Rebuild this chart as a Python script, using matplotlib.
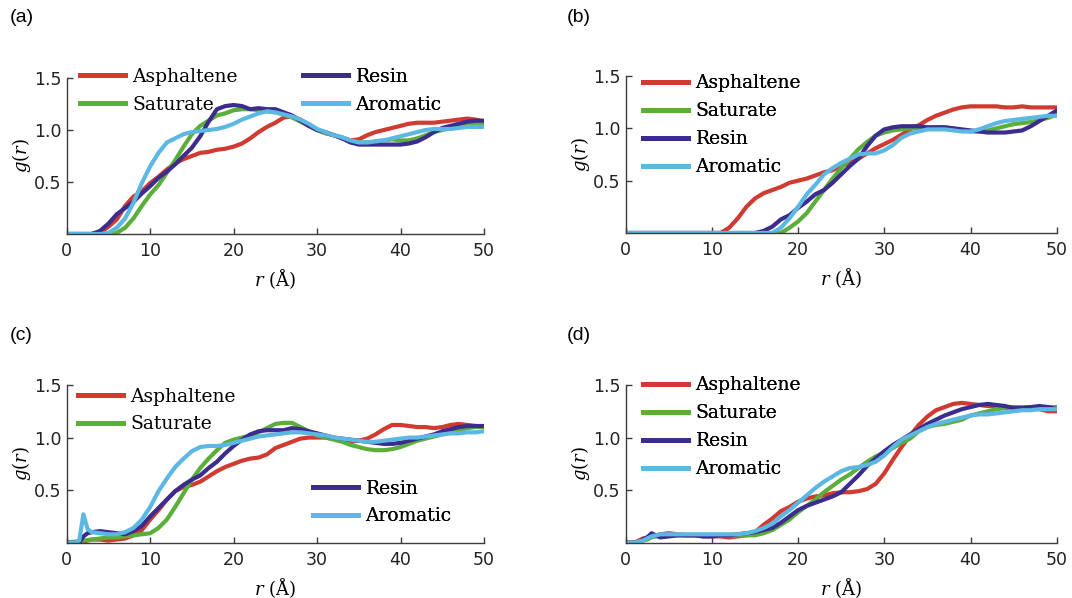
import numpy as np
import matplotlib
matplotlib.use("Agg")
import matplotlib.pyplot as plt
from matplotlib.lines import Line2D

plt.rcParams['mathtext.fontset'] = 'dejavuserif'

# ---------------- data ----------------
labels = ["Asphaltene", "Saturate", "Resin", "Aromatic"]
colors = ["#d13a30", "#5cae3a", "#3b2c8e", "#5cb7e2"]

r_ab = list(range(0, 51))

# panel (a)
a_asph = [0, 0, 0, 0, 0.01, 0.07, 0.14, 0.27, 0.36, 0.41, 0.49, 0.55, 0.62, 0.68, 0.72, 0.75, 0.78, 0.79, 0.81, 0.82,
          0.84, 0.87, 0.92, 0.98, 1.03, 1.07, 1.12, 1.13, 1.10, 1.05, 1.00, 0.97, 0.95, 0.92, 0.90, 0.91, 0.95, 0.98,
          1.00, 1.02, 1.04, 1.06, 1.07, 1.07, 1.07, 1.08, 1.09, 1.10, 1.11, 1.10, 1.08]
a_sat = [0, 0, 0, 0, 0, 0, 0.01, 0.06, 0.15, 0.27, 0.38, 0.47, 0.59, 0.71, 0.84, 0.96, 1.04, 1.09, 1.14, 1.16,
         1.19, 1.20, 1.20, 1.19, 1.18, 1.17, 1.15, 1.12, 1.08, 1.04, 1.00, 0.97, 0.95, 0.93, 0.90, 0.88, 0.88, 0.89,
         0.90, 0.91, 0.90, 0.90, 0.92, 0.95, 0.98, 1.00, 1.02, 1.03, 1.05, 1.06, 1.05]
a_res = [0, 0, 0, 0, 0.03, 0.10, 0.19, 0.25, 0.31, 0.39, 0.46, 0.54, 0.60, 0.67, 0.75, 0.83, 0.94, 1.08, 1.20, 1.23,
         1.24, 1.23, 1.20, 1.21, 1.20, 1.20, 1.17, 1.14, 1.09, 1.04, 1.00, 0.98, 0.95, 0.92, 0.88, 0.86, 0.86, 0.86,
         0.86, 0.86, 0.86, 0.87, 0.89, 0.93, 0.98, 1.02, 1.04, 1.06, 1.08, 1.09, 1.09]
a_aro = [0, 0, 0, 0, 0, 0.01, 0.06, 0.15, 0.30, 0.49, 0.65, 0.78, 0.88, 0.92, 0.96, 0.98, 0.99, 1.00, 1.01, 1.03,
         1.06, 1.10, 1.13, 1.16, 1.18, 1.17, 1.15, 1.13, 1.10, 1.06, 1.01, 0.98, 0.95, 0.93, 0.90, 0.88, 0.88, 0.89,
         0.90, 0.92, 0.94, 0.96, 0.98, 1.00, 1.01, 1.01, 1.01, 1.02, 1.03, 1.03, 1.03]

# panel (b)
b_asph = [0, 0, 0, 0, 0, 0, 0, 0, 0, 0, 0, 0, 0.05, 0.14, 0.25, 0.33, 0.38, 0.41, 0.44, 0.48,
          0.50, 0.52, 0.55, 0.58, 0.60, 0.64, 0.67, 0.71, 0.76, 0.81, 0.85, 0.89, 0.94, 0.99, 1.03, 1.08, 1.12, 1.15,
          1.18, 1.20, 1.21, 1.21, 1.21, 1.21, 1.20, 1.20, 1.21, 1.20, 1.20, 1.20, 1.20]
b_sat = [0, 0, 0, 0, 0, 0, 0, 0, 0, 0, 0, 0, 0, 0, 0, 0, 0, 0, 0, 0.05,
         0.11, 0.19, 0.30, 0.41, 0.52, 0.62, 0.71, 0.80, 0.87, 0.93, 0.96, 0.98, 0.99, 1.00, 1.00, 1.00, 1.01, 1.01,
         1.00, 0.98, 0.97, 0.97, 0.98, 1.00, 1.02, 1.04, 1.05, 1.06, 1.08, 1.10, 1.13]
b_res = [0, 0, 0, 0, 0, 0, 0, 0, 0, 0, 0, 0, 0, 0, 0, 0, 0.02, 0.06, 0.13, 0.17,
         0.24, 0.30, 0.37, 0.41, 0.48, 0.56, 0.64, 0.71, 0.83, 0.93, 0.99, 1.01, 1.02, 1.02, 1.02, 1.01, 1.01, 1.01,
         1.00, 0.99, 0.98, 0.97, 0.96, 0.96, 0.96, 0.97, 0.98, 1.02, 1.07, 1.12, 1.17]
b_aro = [0, 0, 0, 0, 0, 0, 0, 0, 0, 0, 0, 0, 0, 0, 0, 0, 0, 0, 0.05, 0.14,
         0.25, 0.37, 0.46, 0.56, 0.62, 0.67, 0.71, 0.75, 0.76, 0.76, 0.79, 0.84, 0.91, 0.95, 0.97, 0.99, 0.99, 0.99,
         0.98, 0.97, 0.97, 0.99, 1.02, 1.05, 1.07, 1.08, 1.09, 1.10, 1.11, 1.12, 1.12]

# panels (c) and (d) share a grid that is finer near the origin
r_cd = [0, 1, 1.5, 2, 2.5, 3] + list(range(4, 51))

c_asph = [0, 0, 0, 0.01, 0.02, 0.03, 0.03, 0.02, 0.03, 0.04, 0.07, 0.12, 0.22, 0.31, 0.41, 0.49, 0.53, 0.55, 0.58, 0.63,
          0.68, 0.72, 0.75, 0.78, 0.80, 0.81, 0.84, 0.90, 0.93, 0.96, 0.99, 1.00, 1.00, 1.00, 0.99, 0.97, 0.96, 0.97,
          0.99, 1.03, 1.08, 1.12, 1.12, 1.11, 1.10, 1.10, 1.09, 1.10, 1.12, 1.13, 1.12, 1.11, 1.10]
c_sat = [0, 0.01, 0.015, 0.02, 0.025, 0.03, 0.04, 0.05, 0.05, 0.06, 0.07, 0.08, 0.09, 0.14, 0.22, 0.34, 0.47, 0.60, 0.71, 0.80,
         0.88, 0.95, 0.98, 1.00, 1.02, 1.05, 1.09, 1.13, 1.14, 1.14, 1.10, 1.06, 1.02, 1.00, 0.98, 0.96, 0.93, 0.91,
         0.89, 0.88, 0.88, 0.89, 0.91, 0.94, 0.97, 0.99, 1.01, 1.03, 1.05, 1.07, 1.09, 1.10, 1.10]
c_res = [0, 0, 0, 0.06, 0.09, 0.10, 0.11, 0.10, 0.09, 0.08, 0.11, 0.16, 0.25, 0.33, 0.41, 0.49, 0.55, 0.60, 0.64, 0.71,
         0.77, 0.85, 0.92, 0.98, 1.03, 1.06, 1.07, 1.07, 1.07, 1.09, 1.08, 1.06, 1.04, 1.02, 1.00, 0.99, 0.98, 0.97,
         0.96, 0.95, 0.94, 0.94, 0.95, 0.97, 0.99, 1.01, 1.03, 1.06, 1.08, 1.10, 1.11, 1.11, 1.11]
c_aro = [0, 0, 0.02, 0.27, 0.13, 0.10, 0.09, 0.08, 0.08, 0.10, 0.14, 0.22, 0.34, 0.49, 0.61, 0.72, 0.80, 0.87, 0.91, 0.92,
         0.92, 0.93, 0.95, 0.97, 0.99, 1.01, 1.02, 1.03, 1.04, 1.05, 1.05, 1.04, 1.03, 1.02, 1.00, 0.99, 0.98, 0.97,
         0.96, 0.96, 0.97, 0.98, 0.99, 1.00, 1.00, 1.01, 1.02, 1.03, 1.04, 1.04, 1.05, 1.05, 1.06]

d_asph = [0, 0, 0.02, 0.04, 0.05, 0.06, 0.08, 0.09, 0.08, 0.07, 0.07, 0.06, 0.06, 0.06, 0.05, 0.06, 0.07, 0.10, 0.17, 0.23,
          0.30, 0.34, 0.39, 0.42, 0.44, 0.45, 0.47, 0.48, 0.48, 0.49, 0.51, 0.56, 0.66, 0.79, 0.91, 1.02, 1.12, 1.20,
          1.26, 1.29, 1.32, 1.33, 1.32, 1.31, 1.30, 1.30, 1.29, 1.29, 1.29, 1.28, 1.27, 1.25, 1.25]
d_sat = [0, 0, 0.01, 0.02, 0.03, 0.05, 0.07, 0.07, 0.07, 0.07, 0.07, 0.07, 0.07, 0.07, 0.07, 0.07, 0.07, 0.07, 0.09, 0.12,
         0.17, 0.22, 0.29, 0.35, 0.41, 0.48, 0.54, 0.60, 0.65, 0.71, 0.77, 0.82, 0.86, 0.90, 0.95, 0.99, 1.06, 1.10,
         1.12, 1.13, 1.15, 1.17, 1.21, 1.23, 1.25, 1.27, 1.28, 1.29, 1.29, 1.29, 1.29, 1.29, 1.29]
d_res = [0, 0, 0, 0.03, 0.05, 0.09, 0.05, 0.06, 0.07, 0.07, 0.07, 0.06, 0.06, 0.07, 0.07, 0.08, 0.09, 0.10, 0.12, 0.14,
         0.19, 0.25, 0.31, 0.35, 0.38, 0.41, 0.44, 0.48, 0.56, 0.64, 0.73, 0.80, 0.87, 0.93, 0.98, 1.03, 1.08, 1.13,
         1.17, 1.21, 1.24, 1.27, 1.29, 1.31, 1.32, 1.31, 1.30, 1.28, 1.28, 1.29, 1.30, 1.29, 1.27]
d_aro = [0, 0, 0.01, 0.02, 0.04, 0.06, 0.08, 0.08, 0.08, 0.08, 0.08, 0.08, 0.08, 0.08, 0.08, 0.08, 0.09, 0.11, 0.14, 0.18,
         0.25, 0.31, 0.38, 0.45, 0.52, 0.58, 0.63, 0.68, 0.71, 0.72, 0.74, 0.77, 0.83, 0.91, 0.98, 1.02, 1.06, 1.10,
         1.13, 1.15, 1.17, 1.19, 1.21, 1.22, 1.22, 1.23, 1.24, 1.25, 1.26, 1.26, 1.27, 1.27, 1.27]

x_ticks = [0, 10, 20, 30, 40, 50]
y_ticks = [0.5, 1.0, 1.5]
panel_tags = ["(a)", "(b)", "(c)", "(d)"]

# ---------------- layout (pixels of a 1072x598 canvas) ----------------
W, H = 1072, 598
fig = plt.figure(figsize=(W / 100, H / 100), dpi=100)
fig.patch.set_facecolor("white")

def px_axes(x0, x1, ytop, ybot):
    return [x0 / W, 1 - ybot / H, (x1 - x0) / W, (ybot - ytop) / H]

panels = [
    dict(rect=px_axes(66.7, 484, 78, 234), r=r_ab, ys=[a_asph, a_sat, a_res, a_aro], tag_xy=(10, 17),
         legends=[([0, 1], (80, 68)), ([2, 3], (303, 68))]),
    dict(rect=px_axes(625.7, 1056.7, 76, 233), r=r_ab, ys=[b_asph, b_sat, b_res, b_aro], tag_xy=(567, 17),
         legends=[([0, 1, 2, 3], (643, 74.5))]),
    dict(rect=px_axes(66.7, 484, 385, 542.7), r=r_cd, ys=[c_asph, c_sat, c_res, c_aro], tag_xy=(10, 335),
         legends=[([0, 1], (78, 387.5)), ([2, 3], (313, 479.5))]),
    dict(rect=px_axes(625.7, 1056.7, 385, 542.7), r=r_cd, ys=[d_asph, d_sat, d_res, d_aro], tag_xy=(567, 335),
         legends=[([0, 1, 2, 3], (643, 376.5))]),
]

spine_col = "#3c3c3c"
for i, p in enumerate(panels):
    ax = fig.add_axes(p["rect"])
    for k in range(4):
        ax.plot(p["r"], p["ys"][k], color=colors[k], lw=3.0, solid_joinstyle="round",
                solid_capstyle="round")
    ax.set_xlim(0, 50)
    ax.set_ylim(0, 1.5)
    ax.set_xticks(x_ticks)
    ax.set_yticks(y_ticks)
    ax.set_xticklabels([str(t) for t in x_ticks], family="DejaVu Sans", fontsize=12.5)
    ax.set_yticklabels(["%.1f" % t for t in y_ticks], family="DejaVu Sans", fontsize=12.5)
    ax.tick_params(direction="in", length=4, width=1, color=spine_col, labelcolor="#222222")
    ax.tick_params(axis="x", pad=6)
    ax.tick_params(axis="y", pad=4)
    for s in ["top", "right"]:
        ax.spines[s].set_visible(False)
    for s in ["left", "bottom"]:
        ax.spines[s].set_color(spine_col)
        ax.spines[s].set_linewidth(1.0)
    ax.set_xlabel(r"$r$ (Å)", family="DejaVu Serif", fontsize=13, labelpad=5)
    ax.set_ylabel(r"$g(r)$", family="DejaVu Serif", fontsize=13, labelpad=0.5)

    for idxs, (lx, ly) in p["legends"]:
        handles = [Line2D([], [], color=colors[k], lw=3.6) for k in idxs]
        leg = ax.legend(handles, [labels[k] for k in idxs], loc="upper left",
                        bbox_to_anchor=(lx / W, 1 - ly / H), bbox_transform=fig.transFigure,
                        frameon=False, borderpad=0, borderaxespad=0, handlelength=2.4,
                        handletextpad=0.4, labelspacing=0.53,
                        prop=dict(family="DejaVu Serif", size=13.5))
        ax.add_artist(leg)

    fig.text(p["tag_xy"][0] / W, 1 - p["tag_xy"][1] / H, panel_tags[i], family="Liberation Sans",
             fontsize=14, ha="left", va="center")

fig.savefig("out.png", dpi=100, facecolor="white")
